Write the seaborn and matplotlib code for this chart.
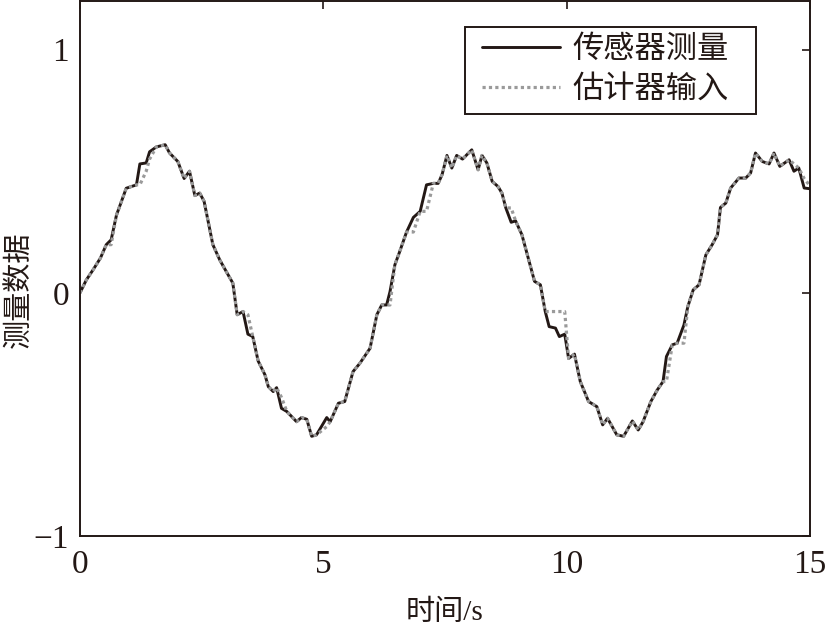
import numpy as np
import pandas as pd
import matplotlib
matplotlib.use("Agg")
import matplotlib.pyplot as plt
from matplotlib.patches import Rectangle
import seaborn as sns

# time points (s)
t = [0, 0.13, 0.27, 0.42, 0.54, 0.64, 0.75, 0.95, 1.16, 1.23, 1.36, 1.43, 1.57, 1.75, 1.84,
     2.01, 2.14, 2.25, 2.36, 2.46, 2.55, 2.73, 2.87, 2.97, 3.14, 3.23, 3.35, 3.45, 3.55, 3.66,
     3.80, 3.87, 3.97, 4.04, 4.14, 4.25, 4.45, 4.55, 4.66, 4.76, 4.86, 5.07, 5.14, 5.31, 5.44,
     5.61, 5.75, 5.96, 6.10, 6.20, 6.30, 6.37, 6.47, 6.57, 6.71, 6.85, 6.99, 7.12, 7.26, 7.36,
     7.44, 7.54, 7.64, 7.74, 7.86, 8.05, 8.18, 8.26, 8.36, 8.47, 8.59, 8.67, 8.75, 8.86, 8.95,
     9.08, 9.34, 9.46, 9.56, 9.64, 9.77, 9.85, 9.96, 10.04, 10.16, 10.28, 10.45, 10.62, 10.74,
     10.84, 11.03, 11.17, 11.35, 11.47, 11.57, 11.73, 11.86, 11.98, 12.05, 12.17, 12.27, 12.41,
     12.49, 12.60, 12.72, 12.86, 12.99, 13.10, 13.16, 13.27, 13.37, 13.54, 13.68, 13.78, 13.88,
     14.02, 14.16, 14.26, 14.38, 14.57, 14.67, 14.77, 14.88, 15.0]

# sensor measurement
sensor = [0, 0.053, 0.095, 0.143, 0.198, 0.218, 0.32, 0.43, 0.444, 0.53, 0.534, 0.58, 0.60, 0.609, 0.575,
          0.54, 0.47, 0.50, 0.40, 0.41, 0.376, 0.198, 0.136, 0.10, 0.04, -0.09, -0.077, -0.17, -0.18, -0.28,
          -0.337, -0.386, -0.406, -0.39, -0.475, -0.488, -0.53, -0.513, -0.52, -0.59, -0.584, -0.513, -0.53, -0.454, -0.447,
          -0.324, -0.29, -0.228, -0.09, -0.05, -0.05, 0.005, 0.115, 0.17, 0.25, 0.31, 0.335, 0.444, 0.45, 0.45,
          0.486, 0.565, 0.513, 0.565, 0.55, 0.588, 0.506, 0.565, 0.534, 0.458, 0.437, 0.41, 0.349, 0.29, 0.296,
          0.239, 0.047, 0.033, -0.077, -0.139, -0.145, -0.18, -0.17, -0.27, -0.252, -0.365, -0.447, -0.468, -0.543,
          -0.516, -0.584, -0.59, -0.527, -0.564, -0.53, -0.447, -0.40, -0.365, -0.262, -0.214, -0.207, -0.132,
          -0.056, 0.012, 0.033, 0.156, 0.198, 0.239, 0.351, 0.369, 0.431, 0.472, 0.472, 0.493, 0.575,
          0.54, 0.53, 0.575, 0.52, 0.547, 0.50, 0.513, 0.431, 0.428]

# estimator input: same samples, but held/lagged at a few places
est_changes = {0.64: 0.198, 1.23: 0.444, 1.36: 0.50, 1.43: 0.55, 3.45: -0.09, 4.14: -0.43,
               5.07: -0.55, 6.37: -0.05, 6.85: 0.25, 7.12: 0.335, 8.86: 0.349,
               9.64: -0.077, 9.77: -0.077, 9.85: -0.077, 9.96: -0.077,
               12.05: -0.365, 12.41: -0.207, 14.67: 0.53, 14.77: 0.513, 14.88: 0.47, 15.0: 0.44}
estimate = [est_changes.get(ti, si) for ti, si in zip(t, sensor)]

labels = ["传感器测量", "估计器输入"]

df = pd.DataFrame({"t": t + t,
                   "y": sensor + estimate,
                   "series": [labels[0]] * len(t) + [labels[1]] * len(t)})

sns.set_style("white")
plt.rcParams["font.family"] = ["Liberation Serif", "Noto Sans CJK SC"]
plt.rcParams["axes.unicode_minus"] = True
ink = "#231815"

fig = plt.figure(figsize=(8.27, 6.34), dpi=100)
ax = fig.add_axes([80 / 827, 98 / 634, 730 / 827, 535 / 634])

sns.lineplot(data=df[df.series == labels[0]], x="t", y="y", ax=ax, sort=False, estimator=None,
             color=ink, linewidth=2.1, label=labels[0])
sns.lineplot(data=df[df.series == labels[1]], x="t", y="y", ax=ax, sort=False, estimator=None,
             color="#9a9a9a", linewidth=2.3, linestyle=(0, (1, 1)), label=labels[1])

ax.set_xlim(0, 15)
ax.set_ylim(-1, 1.2)
ax.set_xticks([0, 5, 10, 15])
ax.set_yticks([-1, 0, 1])
ax.tick_params(direction="in", length=6, width=1.2, top=True, right=True,
               labelsize=24, colors=ink)
ax.tick_params(axis="x", pad=10)
ax.tick_params(axis="y", pad=8)
for s in ax.spines.values():
    s.set_visible(True)
    s.set_color(ink)
    s.set_linewidth(1.4)

ax.set_xlabel("时间/s", fontsize=21, color=ink, labelpad=14)
ax.set_ylabel("测量数据", fontsize=21, color=ink)
ax.yaxis.set_label_coords(-0.064, 0.46)

# legend without frame, then a box drawn around it with the reference's padding
leg = ax.legend(loc="upper right", bbox_to_anchor=(744 / 827, 1 - 20 / 634),
                bbox_transform=fig.transFigure, fontsize=22.5, frameon=False,
                handlelength=2.5, handletextpad=0.4, borderpad=0.0, labelspacing=0.35)
for txt in leg.get_texts():
    txt.set_color(ink)
fig.canvas.draw()
ext = leg.get_window_extent(fig.canvas.get_renderer())
box = Rectangle((ext.x0 - 17, ext.y0 - 9), ext.width + 17 + 28, ext.height + 18,
                transform=None, fill=False, edgecolor=ink, linewidth=1.4, zorder=10)
fig.patches.append(box)

fig.savefig("out.png", dpi=100)
